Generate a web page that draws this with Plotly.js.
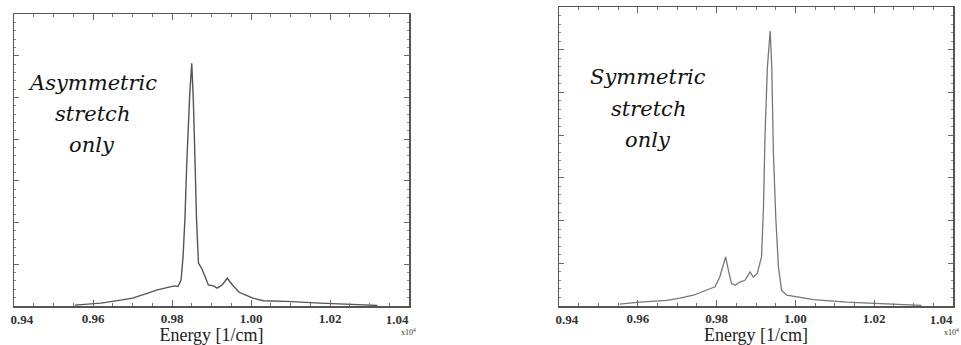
<!DOCTYPE html>
<html>
<head>
<meta charset="utf-8">
<script src="https://cdn.plot.ly/plotly-3.0.1.min.js"></script>
<style>html,body{margin:0;padding:0;background:#fff;}#plot{width:961px;height:345px;}</style>
</head>
<body>
<div id="plot"></div>
<script>
// Energy in units of 10^4 1/cm, intensity in arbitrary units (fraction of frame height)
const asymEnergy = [0.9554,0.962,0.967,0.970,0.9737,0.9763,0.979,0.9806,0.9815,0.9823,0.9828,0.9833,0.9837,0.9841,0.9845,0.9850,0.9854,0.9858,0.9862,0.9867,0.9875,0.9884,0.9892,0.9905,0.9914,0.9927,0.9940,0.9953,0.9970,0.9987,1.0005,1.0031,1.009,1.0175,1.026,1.032];
const asymIntensity = [0.003,0.010,0.020,0.027,0.043,0.055,0.064,0.069,0.067,0.089,0.169,0.306,0.477,0.614,0.729,0.831,0.705,0.511,0.300,0.147,0.129,0.100,0.072,0.069,0.061,0.072,0.095,0.072,0.047,0.037,0.027,0.018,0.016,0.010,0.005,0.002];

const symEnergy = [0.9554,0.9605,0.9673,0.9707,0.9741,0.9775,0.9796,0.9808,0.9817,0.9823,0.9830,0.9838,0.9847,0.9859,0.9872,0.9885,0.9893,0.9903,0.9914,0.9919,0.9923,0.9929,0.9936,0.9940,0.9944,0.9950,0.9957,0.9965,0.9978,1.0003,1.0046,1.013,1.0215,1.0266,1.032];
const symIntensity = [0.006,0.013,0.019,0.026,0.036,0.052,0.064,0.097,0.142,0.164,0.119,0.075,0.069,0.080,0.086,0.114,0.097,0.108,0.164,0.331,0.577,0.800,0.920,0.800,0.520,0.300,0.130,0.052,0.036,0.030,0.021,0.013,0.008,0.004,0.002];

const xTickVals = [0.94,0.96,0.98,1.00,1.02,1.04];
const xTickText = ["0.94","0.96","0.98","1.00","1.02","1.04"];
const asymLabel = ["Asymmetric","stretch","only"];
const symLabel = ["Symmetric","stretch","only"];
const xTitle = "Energy [1/cm]";
const scaleNote = "x10<sup>4</sup>";

const serif = "Liberation Serif, Times New Roman, serif";
const tickFont = {family: serif, size: 13, color: '#333', weight: 'bold'};
const n = xTickVals.length;
const xRange = [xTickVals[0], xTickVals[n - 1]];

function xAxis(domain, anchor) {
  return {
    domain: domain, anchor: anchor, range: xRange,
    tickmode: 'array', tickvals: xTickVals.slice(1, n - 1), ticktext: xTickText.slice(1, n - 1),
    ticks: 'inside', ticklen: 6, tickcolor: '#666', tickwidth: 1,
    minor: {dtick: 0.005, ticks: 'inside', ticklen: 3, tickcolor: '#777'},
    showline: true, linecolor: '#555', linewidth: 1.5, mirror: 'ticks',
    showgrid: false, zeroline: false,
    tickfont: tickFont,
    title: {text: xTitle, font: {family: serif, size: 18, color: '#222'}, standoff: 6}
  };
}
// overlay axes that only carry the end labels, pushed inward as in the original
function endAxis(overlay, anchor, domain, idx, pos, shift) {
  return {
    overlaying: overlay, anchor: anchor, domain: domain,
    range: [xRange[0] - 0.0001, xRange[1] + 0.0001], side: 'bottom',
    tickmode: 'array', tickvals: [xTickVals[idx]], ticktext: [xTickText[idx]],
    ticks: '', showline: false, showgrid: false, zeroline: false,
    ticklabelposition: pos, ticklabelshift: shift, ticklabelstandoff: 4,
    ticklabeloverflow: 'allow', tickfont: tickFont
  };
}
function yAxis(domain, anchor) {
  return {
    domain: domain, anchor: anchor, range: [0, 1],
    tick0: 0, dtick: 1/7, showticklabels: false,
    ticks: 'inside', ticklen: 5, tickcolor: '#666',
    minor: {dtick: 1/35, ticks: 'inside', ticklen: 2, tickcolor: '#888'},
    showline: true, linecolor: '#555', linewidth: 1.5, mirror: 'ticks',
    showgrid: false, zeroline: false
  };
}

const traces = [
  {x: asymEnergy, y: asymIntensity, xaxis: 'x', yaxis: 'y', mode: 'lines',
   line: {color: '#555', width: 1.4}, hoverinfo: 'skip'},
  {x: symEnergy, y: symIntensity, xaxis: 'x2', yaxis: 'y2', mode: 'lines',
   line: {color: '#777', width: 1.3}, hoverinfo: 'skip'},
  // empty carriers so the label-only overlay axes are drawn
  {x: [], y: [], xaxis: 'x3', yaxis: 'y', mode: 'lines', hoverinfo: 'skip'},
  {x: [], y: [], xaxis: 'x4', yaxis: 'y', mode: 'lines', hoverinfo: 'skip'},
  {x: [], y: [], xaxis: 'x5', yaxis: 'y2', mode: 'lines', hoverinfo: 'skip'},
  {x: [], y: [], xaxis: 'x6', yaxis: 'y2', mode: 'lines', hoverinfo: 'skip'}
];

const labelFont = {family: 'DejaVu Serif, serif', size: 21, color: '#111'};
function labelAnn(lines, xc, ycs) {
  return lines.map((t, i) => ({
    xref: 'paper', yref: 'paper', x: xc / 961, y: (345 - ycs[i]) / 345,
    text: '<i>' + t + '</i>', showarrow: false, xanchor: 'center', yanchor: 'middle',
    font: labelFont
  }));
}

const dom1 = [14/961, 409/961], dom2 = [559/961, 953/961];
const layout = {
  width: 961, height: 345,
  margin: {l: 0, r: 0, t: 0, b: 0},
  paper_bgcolor: '#fff', plot_bgcolor: '#fff',
  showlegend: false,
  xaxis: xAxis(dom1, 'y'),
  yaxis: yAxis([39/345, 331/345], 'x'),
  xaxis2: xAxis(dom2, 'y2'),
  yaxis2: yAxis([39/345, 338/345], 'x2'),
  xaxis3: endAxis('x', 'y', dom1, 0, 'outside right', -4),
  xaxis4: endAxis('x', 'y', dom1, n - 1, 'outside left', 0),
  xaxis5: endAxis('x2', 'y2', dom2, 0, 'outside right', -4),
  xaxis6: endAxis('x2', 'y2', dom2, n - 1, 'outside left', 0),
  annotations: [
    ...labelAnn(asymLabel, 92, [83, 114, 145]),
    ...labelAnn(symLabel, 648, [77, 109, 140]),
    {xref: 'paper', yref: 'paper', x: 408/961, y: (345-332)/345, text: scaleNote,
     showarrow: false, xanchor: 'center', yanchor: 'middle',
     font: {family: serif, size: 8, color: '#333'}},
    {xref: 'paper', yref: 'paper', x: 1, y: (345-332)/345, text: scaleNote,
     showarrow: false, xanchor: 'right', yanchor: 'middle',
     font: {family: serif, size: 8, color: '#333'}}
  ]
};

Plotly.newPlot('plot', traces, layout, {staticPlot: true, displayModeBar: false});
</script>
</body>
</html>
